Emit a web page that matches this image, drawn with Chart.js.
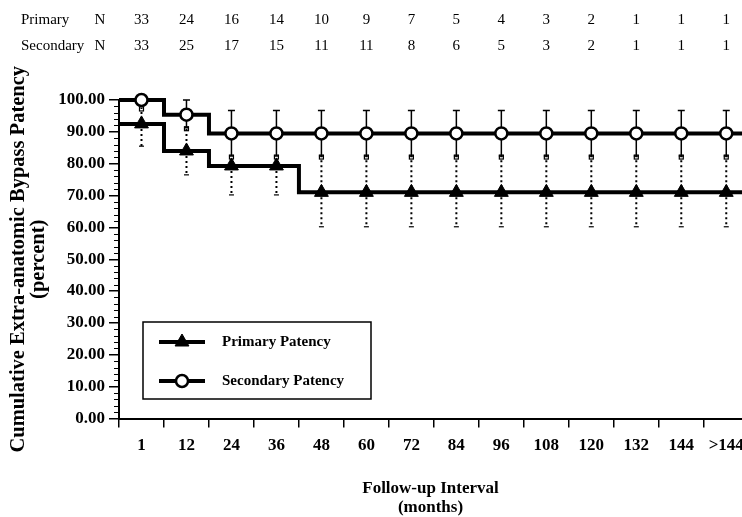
<!DOCTYPE html>
<html>
<head>
<meta charset="utf-8">
<script src="https://cdn.jsdelivr.net/npm/chart.js@4.4.1/dist/chart.umd.min.js"></script>
<style>
html, body { margin: 0; padding: 0; background: #fff; overflow: hidden; }
</style>
</head>
<body>
<canvas id="graph" width="742" height="517"></canvas>
<script>
// follow-up interval (months)
const intervals = ["1", "12", "24", "36", "48", "60", "72", "84", "96", "108", "120", "132", "144", ">144"];

// patients at risk
const primaryN = [33, 24, 16, 14, 10, 9, 7, 5, 4, 3, 2, 1, 1, 1];
const secondaryN = [33, 25, 17, 15, 11, 11, 8, 6, 5, 3, 2, 1, 1, 1];

// cumulative patency (percent) and error bars
const primaryPatency = [92.5, 84.0, 79.3, 79.3, 71.0, 71.0, 71.0, 71.0, 71.0, 71.0, 71.0, 71.0, 71.0, 71.0];
const primaryUpper = [97.5, 91.3, 82.4, 82.4, 82.4, 82.4, 82.4, 82.4, 82.4, 82.4, 82.4, 82.4, 82.4, 82.4];
const primaryLower = [85.5, 76.5, 70.2, 70.2, 60.2, 60.2, 60.2, 60.2, 60.2, 60.2, 60.2, 60.2, 60.2, 60.2];

const secondaryPatency = [100, 95.4, 89.5, 89.5, 89.5, 89.5, 89.5, 89.5, 89.5, 89.5, 89.5, 89.5, 89.5, 89.5];
const secondaryUpper = [100, 100, 96.7, 96.7, 96.7, 96.7, 96.7, 96.7, 96.7, 96.7, 96.7, 96.7, 96.7, 96.7];
const secondaryLower = [100, 91.3, 82.4, 82.4, 82.4, 82.4, 82.4, 82.4, 82.4, 82.4, 82.4, 82.4, 82.4, 82.4];

const seriesNames = ["Primary Patency", "Secondary Patency"];

const serif = "'Liberation Serif', 'Times New Roman', serif";

// step line: each value holds from the left edge of its interval to the next one
function stepPoints(vals){
    let pts = vals.map((v, i) => ({x: i - 0.5, y: v}));
    pts.push({x: vals.length - 0.5, y: vals[vals.length - 1]});
    return pts;
}

function markerPoints(vals){
    return vals.map((v, i) => ({x: i, y: v}));
}

const errorBars = {
    id: "errorBars",
    beforeDatasetsDraw(chart){
        const ctx = chart.ctx;
        const x = chart.scales.x;
        const y = chart.scales.y;
        ctx.save();
        ctx.strokeStyle = "#000";

        // primary: dotted
        ctx.lineWidth = 2;
        for(let i = 0; i < primaryPatency.length; i++){
            let px = x.getPixelForValue(i);
            let pv = y.getPixelForValue(primaryPatency[i]);
            let pu = y.getPixelForValue(primaryUpper[i]);
            let pl = y.getPixelForValue(primaryLower[i]);
            ctx.setLineDash([2, 3]);
            ctx.beginPath();
            ctx.moveTo(px, pv);
            ctx.lineTo(px, pu);
            ctx.moveTo(px, pv);
            ctx.lineTo(px, pl);
            ctx.stroke();
            ctx.setLineDash([]);
            ctx.lineWidth = 1.2;
            ctx.strokeRect(px - 2, pu - 1, 4, 4);
            ctx.beginPath();
            ctx.moveTo(px - 2.5, pl);
            ctx.lineTo(px + 2.5, pl);
            ctx.stroke();
            ctx.lineWidth = 2;
        }

        // secondary: solid
        ctx.setLineDash([]);
        ctx.lineWidth = 1.5;
        for(let i = 0; i < secondaryPatency.length; i++){
            if(secondaryUpper[i] === secondaryLower[i]) continue;
            let px = x.getPixelForValue(i);
            let pu = y.getPixelForValue(secondaryUpper[i]);
            let pl = y.getPixelForValue(secondaryLower[i]);
            ctx.beginPath();
            ctx.moveTo(px, pu);
            ctx.lineTo(px, pl);
            ctx.moveTo(px - 3.5, pu);
            ctx.lineTo(px + 3.5, pu);
            ctx.moveTo(px - 2.5, pl);
            ctx.lineTo(px + 2.5, pl);
            ctx.stroke();
        }
        ctx.restore();
    }
};

const minorTicks = {
    id: "minorTicks",
    afterDraw(chart){
        const ctx = chart.ctx;
        const y = chart.scales.y;
        const left = chart.chartArea.left;
        ctx.save();
        ctx.strokeStyle = "#000";
        ctx.lineWidth = 1;
        for(let v = 0; v <= 100; v += 2){
            if(v % 10 === 0) continue;
            let py = Math.round(y.getPixelForValue(v)) + 0.5;
            ctx.beginPath();
            ctx.moveTo(left - 5, py);
            ctx.lineTo(left, py);
            ctx.stroke();
        }
        ctx.restore();
    }
};

const atRisk = {
    id: "atRisk",
    afterDraw(chart){
        const ctx = chart.ctx;
        const x = chart.scales.x;
        ctx.save();
        ctx.fillStyle = "#000";
        ctx.font = "15px " + serif;
        ctx.textBaseline = "middle";
        let rows = [["Primary", primaryN, 20], ["Secondary", secondaryN, 46]];
        for(let row of rows){
            ctx.textAlign = "left";
            ctx.fillText(row[0], 21, row[2]);
            ctx.textAlign = "center";
            ctx.fillText("N", 100, row[2]);
            row[1].forEach((n, i) => {
                ctx.fillText(String(n), x.getPixelForValue(i), row[2]);
            });
        }
        ctx.restore();
    }
};

const legendBox = {
    id: "legendBox",
    afterDatasetsDraw(chart){
        const ctx = chart.ctx;
        const H = Chart.helpers;
        ctx.save();
        ctx.fillStyle = "#fff";
        ctx.fillRect(143, 322, 228, 77);
        ctx.strokeStyle = "#000";
        ctx.lineWidth = 1.5;
        ctx.strokeRect(143, 322, 228, 77);

        let items = [
            {name: seriesNames[0], y: 342, style: "triangle", r: 8, fill: "#000", bw: 1},
            {name: seriesNames[1], y: 381, style: "circle", r: 6, fill: "#fff", bw: 2.5}
        ];
        for(let it of items){
            ctx.lineWidth = 4;
            ctx.strokeStyle = "#000";
            ctx.beginPath();
            ctx.moveTo(159, it.y);
            ctx.lineTo(205, it.y);
            ctx.stroke();
            ctx.fillStyle = it.fill;
            ctx.lineWidth = it.bw;
            H.drawPoint(ctx, {pointStyle: it.style, radius: it.r, borderWidth: it.bw, rotation: 0}, 182, it.y);
            ctx.fillStyle = "#000";
            ctx.font = "bold 15px " + serif;
            ctx.textAlign = "left";
            ctx.textBaseline = "middle";
            ctx.fillText(it.name, 222, it.y);
        }
        ctx.restore();
    }
};

const config = {
    type: "line",
    data: {
        datasets: [
            {
                label: seriesNames[1],
                data: markerPoints(secondaryPatency),
                showLine: false,
                pointStyle: "circle",
                pointRadius: 6,
                pointBorderWidth: 2.5,
                pointBackgroundColor: "#fff",
                pointBorderColor: "#000",
                clip: false,
                order: 0
            },
            {
                label: seriesNames[0],
                data: markerPoints(primaryPatency),
                showLine: false,
                pointStyle: "triangle",
                pointRadius: 8,
                pointBorderWidth: 1,
                pointBackgroundColor: "#000",
                pointBorderColor: "#000",
                clip: false,
                order: 1
            },
            {
                label: seriesNames[1] + " line",
                data: stepPoints(secondaryPatency),
                stepped: true,
                borderColor: "#000",
                borderWidth: 4,
                pointRadius: 0,
                fill: false,
                clip: {left: 0, right: 0, top: 10, bottom: 0},
                order: 2
            },
            {
                label: seriesNames[0] + " line",
                data: stepPoints(primaryPatency),
                stepped: true,
                borderColor: "#000",
                borderWidth: 4,
                pointRadius: 0,
                fill: false,
                clip: {left: 0, right: 0, top: 10, bottom: 0},
                order: 3
            }
        ]
    },
    options: {
        responsive: false,
        devicePixelRatio: 1,
        animation: false,
        layout: {autoPadding: false, padding: {top: 100, right: 0, bottom: 0, left: 0}},
        plugins: {
            legend: {display: false},
            tooltip: {enabled: false}
        },
        scales: {
            x: {
                type: "linear",
                min: -0.5,
                max: 13.35,
                afterBuildTicks: (s) => {
                    s.ticks = intervals.map((c, i) => ({value: i - 0.5}));
                },
                afterFit: (s) => {
                    s.height = 98.5;
                    s.paddingLeft = 0;
                    s.paddingRight = 0;
                },
                ticks: {
                    autoSkip: false,
                    maxRotation: 0,
                    labelOffset: 22.5,
                    padding: 8,
                    color: "#000",
                    font: {family: serif, size: 17, weight: "bold"},
                    callback: (v, i) => intervals[i]
                },
                grid: {drawOnChartArea: false, tickLength: 9, color: "#000", lineWidth: 1.5},
                border: {color: "#000", width: 2},
                title: {
                    display: true,
                    text: ["Follow-up Interval", "(months)"],
                    color: "#000",
                    padding: {top: 0, bottom: 0},
                    font: {family: serif, size: 17, weight: "bold", lineHeight: 1.1}
                }
            },
            y: {
                min: 0,
                max: 100,
                afterFit: (s) => { s.width = 119; },
                ticks: {
                    stepSize: 10,
                    padding: 4,
                    color: "#000",
                    font: {family: serif, size: 17, weight: "bold"},
                    callback: (v) => v.toFixed(2)
                },
                grid: {drawOnChartArea: false, tickLength: 10, color: "#000", lineWidth: 1.5},
                border: {color: "#000", width: 2},
                title: {
                    display: true,
                    text: ["Cumulative Extra-anatomic Bypass Patency", "(percent)"],
                    color: "#000",
                    padding: {top: 9, bottom: 0},
                    font: {family: serif, size: 20.5, weight: "bold", lineHeight: 0.98}
                }
            }
        }
    },
    plugins: [errorBars, minorTicks, atRisk, legendBox]
};

let myChart = new Chart(document.getElementById("graph"), config);
</script>
</body>
</html>
